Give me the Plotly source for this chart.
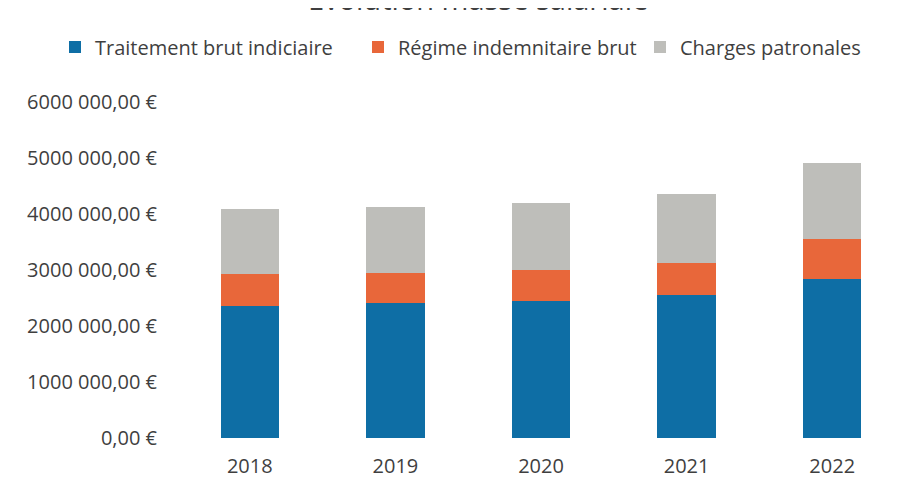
import plotly.graph_objects as go

years = ["2018", "2019", "2020", "2021", "2022"]
traitement = [2361000, 2407000, 2455000, 2550000, 2848000]
regime = [564000, 548000, 549000, 584000, 702000]
charges = [1161000, 1179000, 1184000, 1220000, 1357000]

series_names = ["Traitement brut indiciaire", "Régime indemnitaire brut", "Charges patronales"]
colors = ["#0E6EA5", "#E8673A", "#BEBEBA"]

ytick_vals = [0, 1000000, 2000000, 3000000, 4000000, 5000000, 6000000]
ytick_text = ["0,00 €", "1000 000,00 €", "2000 000,00 €", "3000 000,00 €",
              "4000 000,00 €", "5000 000,00 €", "6000 000,00 €"]

FONT = "'Open Sans', sans-serif"
TXT = "#3F3F3F"

fig = go.Figure()
legend_ids = ["legend", "legend2", "legend3"]
for vals, name, col, lg in zip([traitement, regime, charges], series_names, colors, legend_ids):
    fig.add_trace(go.Bar(x=years, y=vals, name=name, marker=dict(color=col, line=dict(width=0)),
                         legend=lg, showlegend=True))

legend_common = dict(orientation="h", yanchor="middle", y=0.921, yref="container",
                     xanchor="left", xref="container",
                     font=dict(family=FONT, size=20, color=TXT), bgcolor="rgba(0,0,0,0)",
                     itemwidth=30)

fig.update_layout(
    showlegend=True,
    barmode="stack",
    bargap=0.6,
    width=922, height=493,
    margin=dict(l=169, r=25, t=94, b=63),
    plot_bgcolor="white", paper_bgcolor="white",
    font=dict(family=FONT, size=18, color=TXT),
    legend=dict(**legend_common, x=47 / 922),
    legend2=dict(**legend_common, x=350 / 922),
    legend3=dict(**legend_common, x=632 / 922),
    xaxis=dict(showgrid=False, showline=False, ticks="", ticklabelstandoff=14,
               tickfont=dict(family=FONT, size=20, color=TXT)),
    yaxis=dict(range=[0, 6000000], tickvals=ytick_vals, ticktext=ytick_text,
               showgrid=False, showline=False, zeroline=False, ticks="",
               ticklabelstandoff=19,
               tickfont=dict(family=FONT, size=20, color=TXT)),
    annotations=[dict(text="Evolution masse salariale", xref="paper", yref="paper",
                      x=(470 - 169) / 728, y=(430 - 12) / 336, xanchor="center",
                      yanchor="bottom", showarrow=False,
                      font=dict(family=FONT, size=29, color=TXT))],
)

fig.write_html("out.html")
